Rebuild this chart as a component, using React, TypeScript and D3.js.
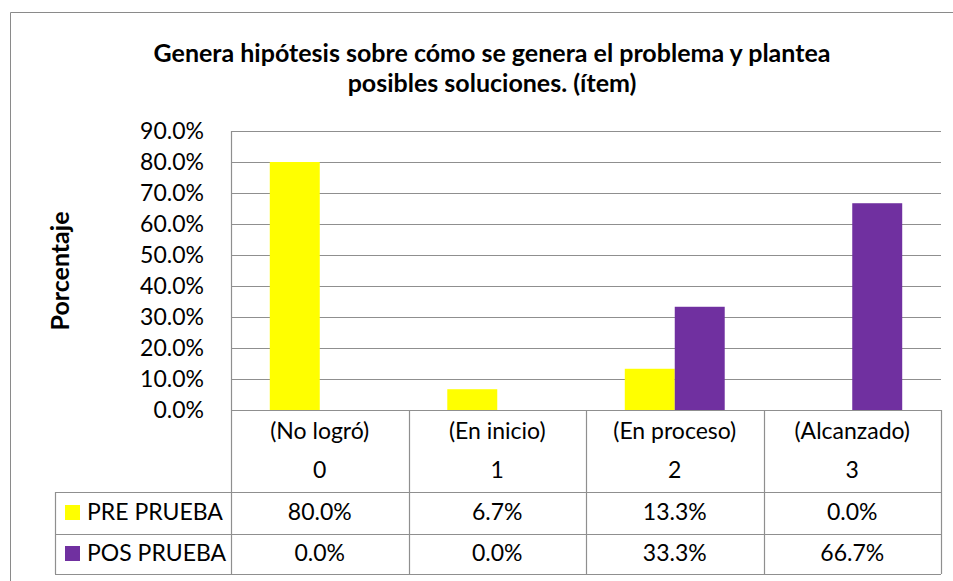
import React from "react";
import * as d3 from "d3";

const categories = ["(No logró)", "(En inicio)", "(En proceso)", "(Alcanzado)"];
const levels = ["0", "1", "2", "3"];
const seriesNames = ["PRE PRUEBA", "POS PRUEBA"];
const preValues = [80.0, 6.7, 13.3, 0.0];
const posValues = [0.0, 0.0, 33.3, 66.7];
const yTicks = [0, 10, 20, 30, 40, 50, 60, 70, 80, 90];
const colors = ["#FFFF00", "#7030A0"];

const W = 953;
const H = 581;
const plotLeft = 231;
const plotRight = 941;
const plotTop = 131;
const plotBottom = 410;
const legendLeft = 55;
const rowLines = [492, 534, 574];
const font = "Lato, 'Open Sans', sans-serif";
const grid = "#8f8f8f";

export default function App() {
	const series = [preValues, posValues];

	const y = d3.scaleLinear().domain([0, 90]).range([plotBottom, plotTop]);
	const x0 = d3.scaleBand<number>()
		.domain(d3.range(categories.length))
		.range([plotLeft, plotRight])
		.paddingInner(0.437)
		.paddingOuter(0.2185);
	const x1 = d3.scaleBand<number>()
		.domain(d3.range(series.length))
		.range([0, x0.bandwidth()]);

	const step = x0.step();
	const colEdges = d3.range(categories.length + 1).map(i => plotLeft + i * step);
	const fmt = (v: number) => d3.format(".1f")(v) + "%";

	return (
		<svg width={W} height={H} style={{ position: "absolute", left: 0, top: 0, background: "#fff" }}
			fontFamily={font}>
			<rect x={0} y={0} width={W} height={H} fill="#fff" />
			{/* outer frame */}
			<path d={`M10.5,${H} V12.5 H${W}`} fill="none" stroke="#8a8a8a" strokeWidth={1} />

			{/* title */}
			<text x={492} y={62} textAnchor="middle" fontSize={25} fontWeight="bold" fill="#000">
				Genera hipótesis sobre cómo se genera el problema y plantea
			</text>
			<text x={492} y={92} textAnchor="middle" fontSize={25} fontWeight="bold" fill="#000">
				posibles soluciones. (ítem)
			</text>

			{/* y axis title */}
			<text transform={`translate(69,271) rotate(-90)`} textAnchor="middle" fontSize={25} fontWeight="bold" fill="#000">
				Porcentaje
			</text>

			{/* gridlines + ticks */}
			{yTicks.map(t => (
				<g key={t}>
					{t > 0 && <line x1={plotLeft} x2={plotRight} y1={Math.round(y(t)) + 0.5} y2={Math.round(y(t)) + 0.5} stroke={grid} strokeWidth={1.2} />}
					<text x={204} y={y(t) + 8} textAnchor="end" fontSize={23} fill="#000">{fmt(t)}</text>
				</g>
			))}

			{/* bars */}
			{series.map((vals, s) => (
				<g key={s} fill={colors[s]}>
					{vals.map((v, i) => (
						<rect key={i} x={(x0(i) as number) + (x1(s) as number)} width={x1.bandwidth()}
							y={y(v)} height={plotBottom - y(v)} />
					))}
				</g>
			))}

			{/* axis line */}
			<line x1={plotLeft + 0.5} x2={plotLeft + 0.5} y1={plotTop} y2={plotBottom} stroke={grid} strokeWidth={1.2} />

			{/* data table */}
			<g stroke={grid} strokeWidth={1.2} fill="none">
				<line x1={plotLeft} x2={plotRight} y1={plotBottom + 0.5} y2={plotBottom + 0.5} />
				{colEdges.map((cx, i) => (
					<line key={i} x1={Math.round(cx) + 0.5} x2={Math.round(cx) + 0.5} y1={plotBottom} y2={rowLines[2]} />
				))}
				{rowLines.map((ry, i) => (
					<line key={i} x1={legendLeft} x2={plotRight} y1={ry + 0.5} y2={ry + 0.5} />
				))}
				<line x1={legendLeft + 0.5} x2={legendLeft + 0.5} y1={rowLines[0]} y2={rowLines[2]} />
			</g>

			{categories.map((c, i) => {
				const cx = (x0(i) as number) + x0.bandwidth() / 2;
				return (
					<g key={i} textAnchor="middle" fontSize={23} fill="#000">
						<text x={cx} y={439}>{c}</text>
						<text x={cx} y={478}>{levels[i]}</text>
						<text x={cx} y={520}>{fmt(preValues[i])}</text>
						<text x={cx} y={561}>{fmt(posValues[i])}</text>
					</g>
				);
			})}

			{seriesNames.map((n, s) => (
				<g key={n}>
					<rect x={65} y={s === 0 ? 505 : 546} width={15} height={15} fill={colors[s]} />
					<text x={87} y={s === 0 ? 520 : 561} fontSize={23} fill="#000">{n}</text>
				</g>
			))}
		</svg>
	);
}
